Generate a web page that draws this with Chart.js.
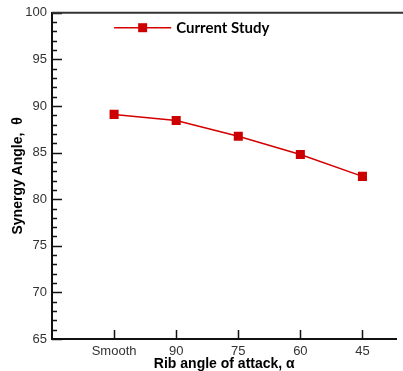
<!DOCTYPE html>
<html>
<head>
<meta charset="utf-8">
<script src="https://cdn.jsdelivr.net/npm/chart.js@4.4.1/dist/chart.umd.min.js"></script>
<style>
html,body{margin:0;padding:0;background:#fff;overflow:hidden;}
#wrap{width:403px;height:371px;}
</style>
</head>
<body>
<div id="wrap"><canvas id="c" width="403" height="371"></canvas></div>
<script>
const categories = ['Smooth', '90', '75', '60', '45'];
const synergyAngle = [89.1, 88.45, 86.75, 84.8, 82.45];
const yTicks = [65, 70, 75, 80, 85, 90, 95, 100];
const seriesName = 'Current Study';

const points = categories.map((c, i) => ({x: i + 1, y: synergyAngle[i]}));

const frameAndTicks = {
  id: 'frameAndTicks',
  afterDatasetsDraw(chart) {
    const {ctx, chartArea: a, scales: {x, y}} = chart;
    ctx.save();
    ctx.strokeStyle = '#111';
    ctx.lineWidth = 1.5;
    for (let v = 65; v <= 100; v++) {
      const py = Math.round(y.getPixelForValue(v)) + 0.5;
      const len = (v % 5 === 0) ? 10 : 5;
      ctx.beginPath();
      ctx.moveTo(a.left, py);
      ctx.lineTo(a.left + len, py);
      ctx.stroke();
    }
    categories.forEach((c, i) => {
      const px = Math.round(x.getPixelForValue(i + 1)) + 0.5;
      ctx.beginPath();
      ctx.moveTo(px, a.bottom);
      ctx.lineTo(px, a.bottom - 9);
      ctx.stroke();
    });
    ctx.strokeStyle = '#333';
    ctx.lineWidth = 2;
    ctx.beginPath();
    ctx.moveTo(a.left, a.top);
    ctx.lineTo(chart.width, a.top);
    ctx.stroke();
    const ly = y.getPixelForValue(98.4);
    const lx0 = x.getPixelForValue(1);
    const lx1 = x.getPixelForValue(1.92);
    ctx.strokeStyle = '#d40000';
    ctx.lineWidth = 1.5;
    ctx.beginPath();
    ctx.moveTo(lx0, ly);
    ctx.lineTo(lx1, ly);
    ctx.stroke();
    ctx.fillStyle = '#cc0000';
    const mx = (lx0 + lx1) / 2;
    ctx.fillRect(mx - 4.5, ly - 4.5, 9, 9);
    ctx.fillStyle = '#000';
    ctx.font = 'bold 15px Lato, "Open Sans", sans-serif';
    ctx.textBaseline = 'middle';
    ctx.textAlign = 'left';
    ctx.fillText(seriesName, lx1 + 5, ly);
    ctx.restore();
  }
};

new Chart(document.getElementById('c'), {
  type: 'line',
  data: {
    datasets: [{
      label: seriesName,
      data: points,
      borderColor: '#d40000',
      backgroundColor: '#cc0000',
      borderWidth: 1.5,
      pointStyle: 'rect',
      pointRadius: 6.4,
      pointHoverRadius: 6.4,
      pointBorderWidth: 0,
      tension: 0
    }]
  },
  options: {
    responsive: false,
    animation: false,
    events: [],
    layout: {padding: {top: 12, left: 0, right: 0, bottom: 0}},
    plugins: {legend: {display: false}, tooltip: {enabled: false}},
    scales: {
      x: {
        type: 'linear',
        min: 0,
        max: 5.55,
        afterFit(s) { s.height = 32; },
        afterBuildTicks(s) { s.ticks = categories.map((c, i) => ({value: i + 1})); },
        grid: {display: false, drawTicks: false},
        border: {display: true, color: '#111', width: 2},
        ticks: {
          autoSkip: false,
          maxRotation: 0,
          padding: 5,
          color: '#333',
          font: {family: '"Liberation Sans", Arial, sans-serif', size: 13},
          callback: (v) => categories[Math.round(v) - 1] ?? ''
        },
        title: {
          display: true,
          text: 'Rib angle of attack, α',
          color: '#000',
          font: {family: '"Liberation Sans", Arial, sans-serif', size: 14, weight: 'bold', lineHeight: 1.0},
          padding: {top: 0, bottom: 0}
        }
      },
      y: {
        min: 65,
        max: 100,
        afterFit(s) { s.width = 52; },
        afterBuildTicks(s) { s.ticks = yTicks.map(v => ({value: v})); },
        grid: {display: false, drawTicks: false},
        border: {display: true, color: '#111', width: 2},
        ticks: {
          padding: 5,
          color: '#333',
          font: {family: '"Liberation Sans", Arial, sans-serif', size: 13}
        },
        title: {
          display: true,
          text: 'Synergy Angle,  θ',
          color: '#000',
          font: {family: '"Liberation Sans", Arial, sans-serif', size: 14, weight: 'bold'},
          padding: {top: 10, bottom: 0}
        }
      }
    }
  },
  plugins: [frameAndTicks]
});
</script>
</body>
</html>
